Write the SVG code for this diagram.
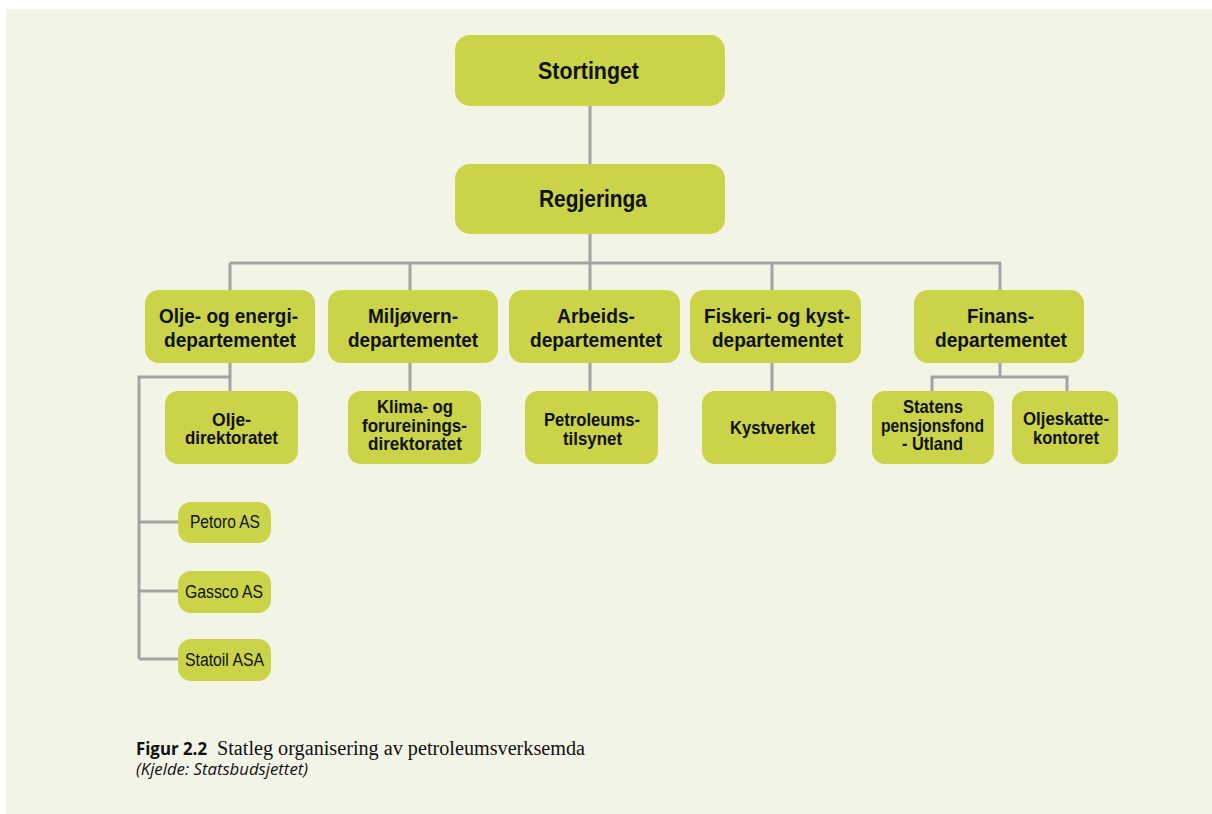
<svg xmlns="http://www.w3.org/2000/svg" width="1212" height="814" viewBox="0 0 1212 814">
  <style>
    .box { fill: #CBD348; }
    .link { fill: none; stroke: #A3A3A3; stroke-width: 3; }
    .t { font-family: "Liberation Sans", Arial, sans-serif; fill: #111; text-anchor: middle; }
    .top { font-size: 23.5px; font-weight: bold; }
    .dep { font-size: 21px; font-weight: bold; }
    .sub { font-size: 19px; font-weight: bold; }
    .co { font-size: 18px; }
    .cap-b { font-family: "Open Sans", "Noto Sans", sans-serif; font-weight: bold; font-size: 17px; fill: #111; }
    .cap { font-family: "Liberation Serif", "Times New Roman", serif; font-size: 20px; fill: #111; }
    .src { font-family: "Open Sans", "Noto Sans", sans-serif; font-style: italic; font-size: 16.5px; fill: #111; }
  </style>

  <!-- page and panel -->
  <rect x="0" y="0" width="1212" height="814" fill="#FFFFFF"/>
  <rect x="6" y="9" width="1206" height="805" fill="#F2F4E6"/>

  <!-- connectors -->
  <g id="connectors">
    <path class="link" d="M590 106 V164"/>
    <path class="link" d="M590 234 V263"/>
    <path class="link" d="M230 263 H1001"/>
    <path class="link" d="M230 263 V290 M410 263 V290 M590 263 V290 M772 263 V290 M1000 263 V290"/>
    <path class="link" d="M230 363 V391"/>
    <path class="link" d="M410 363 V391"/>
    <path class="link" d="M590 363 V391"/>
    <path class="link" d="M772 363 V391"/>
    <path class="link" d="M1000 363 V377 M932 391 V377 H1067 V391"/>
    <path class="link" d="M230 377 H139 V659"/>
    <path class="link" d="M139 522 H178 M139 591 H178 M139 659 H178"/>
  </g>

  <g id="stortinget">
    <rect class="box" x="455" y="35" width="270" height="71" rx="15"/>
    <text class="t top" x="588.5" y="79" textLength="101" lengthAdjust="spacingAndGlyphs">Stortinget</text>
  </g>
  <g id="regjeringa">
    <rect class="box" x="455" y="164" width="270" height="70" rx="15"/>
    <text class="t top" x="593" y="207" textLength="108" lengthAdjust="spacingAndGlyphs">Regjeringa</text>
  </g>

  <!-- departments -->
  <g id="oed">
    <rect class="box" x="145" y="290" width="170" height="73" rx="14"/>
    <text class="t dep" x="228.5" y="323" textLength="139" lengthAdjust="spacingAndGlyphs">Olje- og energi-</text>
    <text class="t dep" x="230" y="347" textLength="132" lengthAdjust="spacingAndGlyphs">departementet</text>
  </g>
  <g id="md">
    <rect class="box" x="328" y="290" width="170" height="73" rx="14"/>
    <text class="t dep" x="413" y="323" textLength="90" lengthAdjust="spacingAndGlyphs">Miljøvern-</text>
    <text class="t dep" x="413" y="347" textLength="130" lengthAdjust="spacingAndGlyphs">departementet</text>
  </g>
  <g id="ad">
    <rect class="box" x="509" y="290" width="171" height="73" rx="14"/>
    <text class="t dep" x="596" y="323" textLength="78" lengthAdjust="spacingAndGlyphs">Arbeids-</text>
    <text class="t dep" x="596" y="347" textLength="132" lengthAdjust="spacingAndGlyphs">departementet</text>
  </g>
  <g id="fkd">
    <rect class="box" x="690" y="290" width="171" height="73" rx="14"/>
    <text class="t dep" x="777" y="323" textLength="146" lengthAdjust="spacingAndGlyphs">Fiskeri- og kyst-</text>
    <text class="t dep" x="777.5" y="347" textLength="131" lengthAdjust="spacingAndGlyphs">departementet</text>
  </g>
  <g id="fin">
    <rect class="box" x="914" y="290" width="170" height="73" rx="14"/>
    <text class="t dep" x="1000.5" y="323" textLength="67" lengthAdjust="spacingAndGlyphs">Finans-</text>
    <text class="t dep" x="1001" y="347" textLength="132" lengthAdjust="spacingAndGlyphs">departementet</text>
  </g>

  <!-- subordinate agencies -->
  <g id="od">
    <rect class="box" x="165" y="391" width="133" height="73" rx="13"/>
    <text class="t sub" x="231.5" y="426" textLength="39" lengthAdjust="spacingAndGlyphs">Olje-</text>
    <text class="t sub" x="231.5" y="444" textLength="93" lengthAdjust="spacingAndGlyphs">direktoratet</text>
  </g>
  <g id="klif">
    <rect class="box" x="348" y="391" width="133" height="73" rx="13"/>
    <text class="t sub" x="415" y="413" textLength="76" lengthAdjust="spacingAndGlyphs">Klima- og</text>
    <text class="t sub" x="414.5" y="431.5" textLength="105" lengthAdjust="spacingAndGlyphs">forureinings-</text>
    <text class="t sub" x="415" y="450" textLength="94" lengthAdjust="spacingAndGlyphs">direktoratet</text>
  </g>
  <g id="ptil">
    <rect class="box" x="525" y="391" width="133" height="73" rx="13"/>
    <text class="t sub" x="592" y="426" textLength="96" lengthAdjust="spacingAndGlyphs">Petroleums-</text>
    <text class="t sub" x="592.5" y="445" textLength="59" lengthAdjust="spacingAndGlyphs">tilsynet</text>
  </g>
  <g id="kystverket">
    <rect class="box" x="702" y="391" width="134" height="73" rx="13"/>
    <text class="t sub" x="772.5" y="434" textLength="85" lengthAdjust="spacingAndGlyphs">Kystverket</text>
  </g>
  <g id="spu">
    <rect class="box" x="872" y="391" width="122" height="73" rx="13"/>
    <text class="t sub" x="933" y="413" textLength="60" lengthAdjust="spacingAndGlyphs">Statens</text>
    <text class="t sub" x="932.5" y="431.5" textLength="103" lengthAdjust="spacingAndGlyphs">pensjonsfond</text>
    <text class="t sub" x="932.5" y="450" textLength="61" lengthAdjust="spacingAndGlyphs">- Utland</text>
  </g>
  <g id="osk">
    <rect class="box" x="1012" y="391" width="106" height="73" rx="13"/>
    <text class="t sub" x="1066" y="425" textLength="86" lengthAdjust="spacingAndGlyphs">Oljeskatte-</text>
    <text class="t sub" x="1066" y="444" textLength="66" lengthAdjust="spacingAndGlyphs">kontoret</text>
  </g>

  <!-- state-owned companies -->
  <g id="petoro">
    <rect class="box" x="178" y="502" width="93" height="41" rx="13"/>
    <text class="t co" x="225" y="528" textLength="70" lengthAdjust="spacingAndGlyphs">Petoro AS</text>
  </g>
  <g id="gassco">
    <rect class="box" x="178" y="571" width="93" height="42" rx="13"/>
    <text class="t co" x="224" y="598" textLength="78" lengthAdjust="spacingAndGlyphs">Gassco AS</text>
  </g>
  <g id="statoil">
    <rect class="box" x="178" y="639" width="93" height="42" rx="13"/>
    <text class="t co" x="224.5" y="666" textLength="79" lengthAdjust="spacingAndGlyphs">Statoil ASA</text>
  </g>

  <!-- caption -->
  <g id="caption">
    <text class="cap-b" x="136" y="755" textLength="71" lengthAdjust="spacingAndGlyphs">Figur 2.2</text>
    <text class="cap" x="217" y="755" textLength="368" lengthAdjust="spacingAndGlyphs">Statleg organisering av petroleumsverksemda</text>
    <text class="src" x="136" y="775" textLength="172" lengthAdjust="spacingAndGlyphs">(Kjelde: Statsbudsjettet)</text>
  </g>
</svg>
